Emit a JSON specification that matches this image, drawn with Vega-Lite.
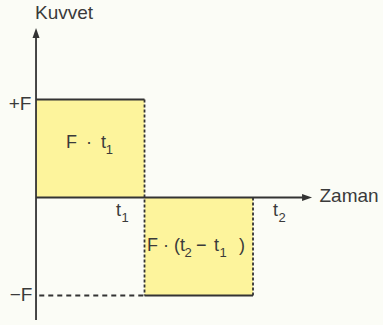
{
  "$schema": "https://vega.github.io/schema/vega-lite/v6.json",
  "width": 383,
  "height": 325,
  "padding": 0,
  "autosize": {"type": "none"},
  "background": "#fbfcf6",
  "config": {
    "view": {"stroke": null},
    "font": "Liberation Sans"
  },
  "datasets": {
    "areas": [
      {"name": "F · t1", "t_start": 0, "t_end": 1, "f_low": 0, "f_high": 1},
      {"name": "F · (t2 − t1)", "t_start": 1, "t_end": 2, "f_low": -1, "f_high": 0}
    ],
    "lines": [
      {"part": "force axis", "t_a": 0, "t_b": 0, "f_a": -1.25, "f_b": 1.68, "kind": "solid"},
      {"part": "time axis", "t_a": 0, "t_b": 2.5, "f_a": 0, "f_b": 0, "kind": "solid"},
      {"part": "+F level", "t_a": 0, "t_b": 1, "f_a": 1, "f_b": 1, "kind": "solid"},
      {"part": "t1 edge", "t_a": 1, "t_b": 1, "f_a": 1, "f_b": -1, "kind": "dotted"},
      {"part": "t2 edge", "t_a": 2, "t_b": 2, "f_a": 0, "f_b": -1, "kind": "dotted"},
      {"part": "-F level", "t_a": 1, "t_b": 2, "f_a": -1, "f_b": -1, "kind": "solid"},
      {"part": "-F guide", "t_a": 0.03, "t_b": 1, "f_a": -1, "f_b": -1, "kind": "dashed"}
    ],
    "arrows": [
      {"axis": "force", "t": 0, "f": 1.73, "dir": "up"},
      {"axis": "time", "t": 2.544, "f": 0, "dir": "right"}
    ],
    "titles": [
      {"text": "Kuvvet", "t": 0.258, "f": 1.883},
      {"text": "Zaman", "t": 2.885, "f": 0.02},
      {"text": "+F", "t": -0.147, "f": 0.95},
      {"text": "−F", "t": -0.138, "f": -1.0}
    ],
    "formula": [
      {"text": "F\u2002·\u2002t", "t": 0.276, "f": 0.561},
      {"text": "F · (t", "t": 1.023, "f": -0.495},
      {"text": "−", "t": 1.475, "f": -0.495},
      {"text": "t", "t": 1.641, "f": -0.495},
      {"text": ")", "t": 1.871, "f": -0.495},
      {"text": "t", "t": 0.737, "f": -0.138},
      {"text": "t", "t": 2.184, "f": -0.138}
    ],
    "subscripts": [
      {"text": "1", "t": 0.642, "f": 0.485},
      {"text": "2", "t": 1.369, "f": -0.571},
      {"text": "1", "t": 1.69, "f": -0.571},
      {"text": "1", "t": 0.788, "f": -0.209},
      {"text": "2", "t": 2.235, "f": -0.209}
    ]
  },
  "layer": [
    {
      "data": {"name": "areas"},
      "mark": {"type": "rect", "color": "#fdf49c"},
      "encoding": {
        "x": {"field": "t_start", "type": "quantitative", "scale": {"domain": [-0.332, 3.198], "nice": false, "zero": false}, "axis": null},
        "x2": {"field": "t_end"},
        "y": {"field": "f_low", "type": "quantitative", "scale": {"domain": [-1.301, 2.015], "nice": false, "zero": false}, "axis": null},
        "y2": {"field": "f_high"}
      }
    },
    {
      "data": {"name": "lines"},
      "mark": {"type": "rule", "color": "#333333", "strokeWidth": 1.8},
      "encoding": {
        "x": {"field": "t_a", "type": "quantitative"},
        "x2": {"field": "t_b"},
        "y": {"field": "f_a", "type": "quantitative"},
        "y2": {"field": "f_b"},
        "strokeDash": {
          "field": "kind",
          "type": "nominal",
          "scale": {"domain": ["solid", "dotted", "dashed"], "range": [[1, 0], [3, 2], [5, 4]]},
          "legend": null
        }
      }
    },
    {
      "data": {"name": "arrows"},
      "mark": {"type": "point", "filled": true, "opacity": 1, "color": "#333333", "size": 100},
      "encoding": {
        "x": {"field": "t", "type": "quantitative"},
        "y": {"field": "f", "type": "quantitative"},
        "shape": {
          "field": "dir",
          "type": "nominal",
          "scale": {"domain": ["up", "right"], "range": ["M0,0L-0.7,2L0.7,2Z", "M0,0L-2,-0.7L-2,0.7Z"]},
          "legend": null
        }
      }
    },
    {
      "data": {"name": "titles"},
      "mark": {"type": "text", "fontSize": 19, "color": "#3a3a3a", "align": "center", "baseline": "middle"},
      "encoding": {
        "x": {"field": "t", "type": "quantitative"},
        "y": {"field": "f", "type": "quantitative"},
        "text": {"field": "text"}
      }
    },
    {
      "data": {"name": "formula"},
      "mark": {"type": "text", "fontSize": 18, "color": "#3a3a3a", "align": "left", "baseline": "middle"},
      "encoding": {
        "x": {"field": "t", "type": "quantitative"},
        "y": {"field": "f", "type": "quantitative"},
        "text": {"field": "text"}
      }
    },
    {
      "data": {"name": "subscripts"},
      "mark": {"type": "text", "fontSize": 13, "color": "#3a3a3a", "align": "left", "baseline": "middle"},
      "encoding": {
        "x": {"field": "t", "type": "quantitative"},
        "y": {"field": "f", "type": "quantitative"},
        "text": {"field": "text"}
      }
    }
  ]
}
